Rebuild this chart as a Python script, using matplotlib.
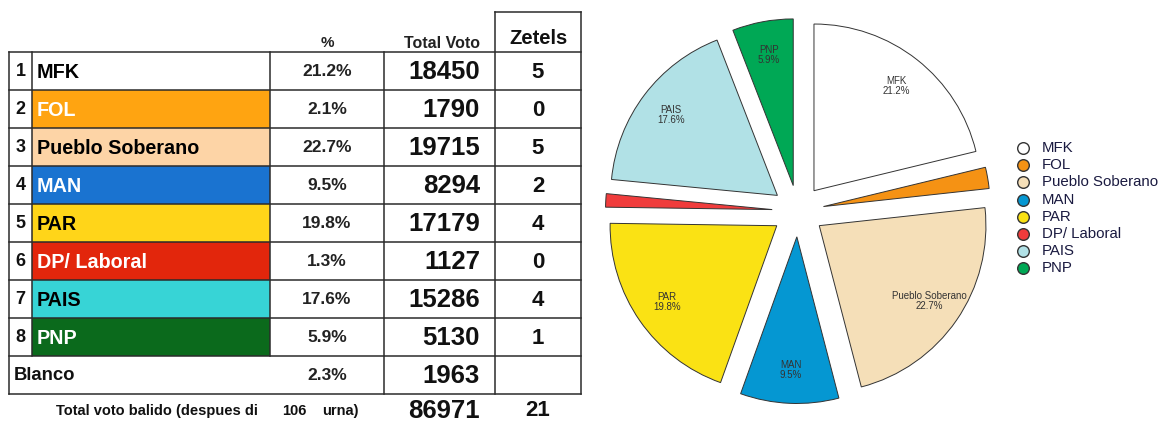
import matplotlib
matplotlib.use("Agg")
import matplotlib.pyplot as plt
from matplotlib.patches import Rectangle

plt.rcParams['font.family'] = ['Liberation Sans', 'DejaVu Sans']

# ---- data ----
row_nums = ["1", "2", "3", "4", "5", "6", "7", "8"]
parties = ["MFK", "FOL", "Pueblo Soberano", "MAN", "PAR", "DP/ Laboral", "PAIS", "PNP"]
pct_labels = ["21.2%", "2.1%", "22.7%", "9.5%", "19.8%", "1.3%", "17.6%", "5.9%"]
votes = [18450, 1790, 19715, 8294, 17179, 1127, 15286, 5130]
seats = [5, 0, 5, 2, 4, 0, 4, 1]
blanco_label = "Blanco"
blanco_pct = "2.3%"
blanco_votes = 1963
total_votes = 86971
total_seats = 21
urna_count = 106
header_pct = "%"
header_votes = "Total Voto"
header_seats = "Zetels"
footer_label = "Total voto balido (despues di"
footer_urna = "urna)"

table_colors = ["#FFFFFF", "#FFA411", "#FDD4A6", "#1A73D0", "#FFD519", "#E2260C", "#37D4D6", "#0B6A1C"]
table_text_colors = ["black", "white", "black", "white", "black", "white", "black", "white"]
pie_colors = ["#FFFFFF", "#F59214", "#F5DFB8", "#0597D2", "#FAE214", "#F03C3C", "#B1E1E6", "#00A855"]

# ---- figure ----
W, H = 1173, 421
fig = plt.figure(figsize=(W / 100, H / 100), dpi=100)
fig.patch.set_facecolor("white")

tab = fig.add_axes([0, 0, 1, 1])
tab.set_xlim(0, W)
tab.set_ylim(H, 0)
tab.axis("off")

lc = "#2b2b2b"
lw = 1.1

# layout of the table (pixels)
x_left, x_num, x_name, x_pct, x_vot, x_right = 9, 32, 270, 384, 495, 581
y_top, row_h = 52, 38
n = len(parties)
y_rows = [y_top + i * row_h for i in range(n + 2)]  # boundaries incl. Blanco
y_bottom = y_rows[-1]

# coloured name cells
for i in range(n):
    tab.add_patch(Rectangle((x_num, y_rows[i]), x_name - x_num, row_h,
                            facecolor=table_colors[i], edgecolor="none", zorder=1))

# horizontal lines
for y in y_rows:
    tab.plot([x_left, x_right], [y, y], color=lc, lw=lw, zorder=3)
tab.plot([x_vot, x_right], [12, 12], color=lc, lw=lw, zorder=3)
# vertical lines
tab.plot([x_left, x_left], [y_top, y_bottom], color=lc, lw=lw, zorder=3)
tab.plot([x_num, x_num], [y_top, y_rows[n]], color=lc, lw=lw, zorder=3)
tab.plot([x_name, x_name], [y_top, y_rows[n]], color=lc, lw=lw, zorder=3)
tab.plot([x_pct, x_pct], [y_top, y_bottom], color=lc, lw=lw, zorder=3)
tab.plot([x_vot, x_vot], [12, y_bottom], color=lc, lw=lw, zorder=3)
tab.plot([x_right, x_right], [12, y_bottom], color=lc, lw=lw, zorder=3)

cx_pct = 327
rx_votes = 480
cx_seats = 538

# headers
tab.text(cx_pct, 43, header_pct, ha="center", va="center", fontsize=11, fontweight="bold", color="#222")
tab.text(442, 43, header_votes, ha="center", va="center", fontsize=11.5, fontweight="bold", color="#222")
tab.text(cx_seats, 39, header_seats, ha="center", va="center", fontsize=14.5, fontweight="bold", color="#111")

# rows
for i in range(n):
    yc = y_rows[i] + row_h / 2 + 1
    tab.text(20.5, yc, row_nums[i], ha="center", va="center", fontsize=13, fontweight="bold", color="#111", zorder=4)
    tab.text(37, yc, parties[i], ha="left", va="center", fontsize=14.2, fontweight="bold",
             color=table_text_colors[i], zorder=4)
    tab.text(cx_pct, yc, pct_labels[i], ha="center", va="center", fontsize=12.5, fontweight="bold", color="#222", zorder=4)
    tab.text(rx_votes, yc, f"{votes[i]}", ha="right", va="center", fontsize=18.5, fontweight="bold", color="#111", zorder=4)
    tab.text(cx_seats, yc, f"{seats[i]}", ha="center", va="center", fontsize=16, fontweight="bold", color="#111", zorder=4)

# Blanco row
yc = y_rows[n] + row_h / 2 + 1
tab.text(14, yc, blanco_label, ha="left", va="center", fontsize=13.3, fontweight="bold", color="#111")
tab.text(cx_pct, yc, blanco_pct, ha="center", va="center", fontsize=12.5, fontweight="bold", color="#222")
tab.text(rx_votes, yc, f"{blanco_votes}", ha="right", va="center", fontsize=18.5, fontweight="bold", color="#111")

# footer
yf = 411
tab.text(56, yf, footer_label, ha="left", va="center", fontsize=10.5, fontweight="bold", color="#111")
tab.text(294, yf, f"{urna_count}", ha="center", va="center", fontsize=10.5, fontweight="bold", color="#111")
tab.text(322, yf, footer_urna, ha="left", va="center", fontsize=10.5, fontweight="bold", color="#111")
tab.text(rx_votes, yf, f"{total_votes}", ha="right", va="center", fontsize=18.5, fontweight="bold", color="#111")
tab.text(cx_seats, yf, f"{total_seats}", ha="center", va="center", fontsize=16, fontweight="bold", color="#111")

# ---- pie ----
pcx, pcy, half = 798, 421 - 211, 200
pax = fig.add_axes([(pcx - half) / W, (pcy - half) / H, 2 * half / W, 2 * half / H])
pie_labels = [f"{p}\n{s}" for p, s in zip(parties, pct_labels)]
wedges, texts = pax.pie(votes, colors=pie_colors, startangle=90, counterclock=False,
                        explode=[0.155] * n, labels=pie_labels, labeldistance=0.8,
                        wedgeprops=dict(edgecolor="#333333", linewidth=0.7),
                        textprops=dict(fontsize=7, color="#333333"))
share = [v / sum(votes) for v in votes]
for t, s in zip(texts, share):
    t.set_horizontalalignment("center")
    t.set_verticalalignment("center")
    t.set_linespacing(1.0)
    if s < 0.03:          # small slices carry no label in the reference
        t.set_visible(False)
pax.set_xlim(-1.2, 1.2)
pax.set_ylim(-1.2, 1.2)

# ---- legend ----
leg_x, leg_y0, leg_dy = 1023, 148, 17.2
for i in range(n):
    y = leg_y0 + i * leg_dy
    tab.scatter([leg_x], [y], s=70, facecolor=pie_colors[i], edgecolor="#333333", linewidth=1.0, zorder=5)
    tab.text(leg_x + 19, y, parties[i], ha="left", va="center", fontsize=10.8, color="#1a1a40", zorder=5)

fig.savefig("out.png", dpi=100, facecolor="white")
